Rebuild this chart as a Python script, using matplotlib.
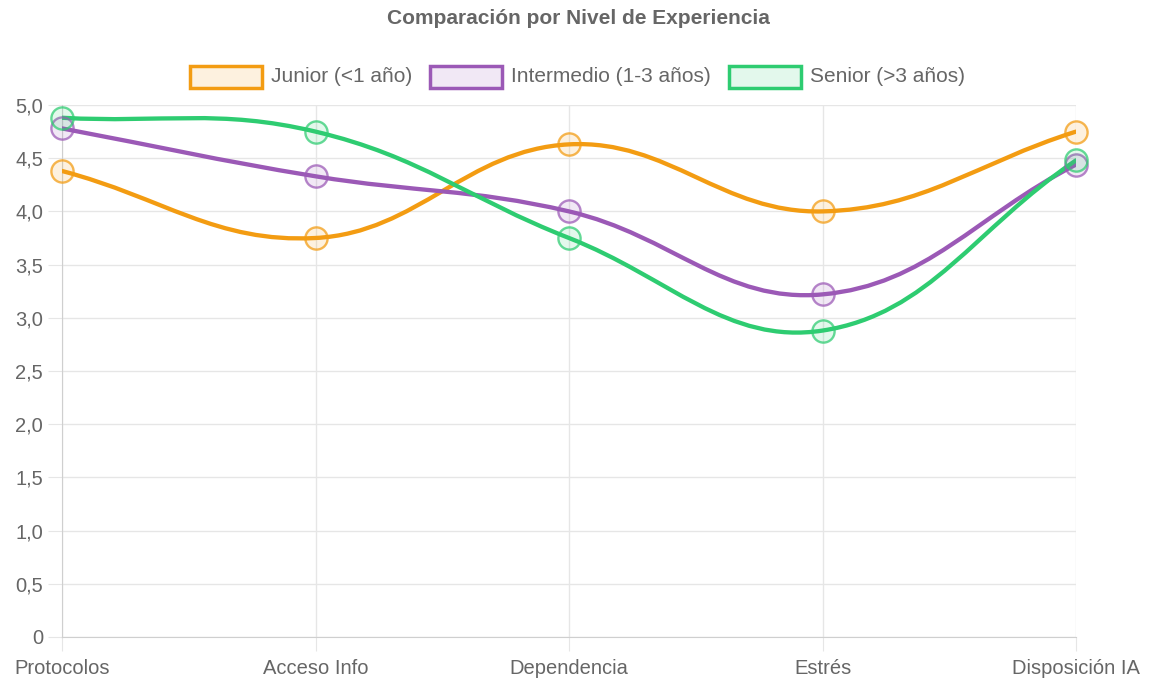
import numpy as np
import matplotlib.pyplot as plt
from matplotlib.path import Path
from matplotlib.patches import PathPatch, Rectangle
from matplotlib.ticker import FuncFormatter, MultipleLocator

plt.rcParams['font.family'] = ['Liberation Sans', 'DejaVu Sans']

categorias = ['Protocolos', 'Acceso Info', 'Dependencia', 'Estrés', 'Disposición IA']
junior = [4.38, 3.75, 4.63, 4.0, 4.75]
intermedio = [4.78, 4.33, 4.0, 3.22, 4.44]
senior = [4.88, 4.75, 3.75, 2.88, 4.48]
nombres = ['Junior (<1 año)', 'Intermedio (1-3 años)', 'Senior (>3 años)']
colores = ['#f39c12', '#9b59b6', '#2ecc71']
titulo = 'Comparación por Nivel de Experiencia'

W, H = 1149, 680
izq, der, arr, aba = 62, 1076, 105, 637
sx = (der - izq) / (len(categorias) - 1)
sy = (aba - arr) / 5.0


# curva suave tipo chart.js (tension 0.4), distancias en pixeles
def curva(y, t=0.4):
    px = np.arange(len(y)) * sx
    py = np.array(y) * sy
    n = len(px)
    cprev, cnext = [], []
    for i in range(n):
        a = max(i - 1, 0)
        c = min(i + 1, n - 1)
        d01 = np.hypot(px[i] - px[a], py[i] - py[a])
        d12 = np.hypot(px[c] - px[i], py[c] - py[i])
        tot = d01 + d12
        fa = t * d01 / tot if tot else 0
        fb = t * d12 / tot if tot else 0
        dx = px[c] - px[a]
        dy = py[c] - py[a]
        cprev.append((px[i] - fa * dx, min(py[i] - fa * dy, 5 * sy)))
        cnext.append((px[i] + fb * dx, min(py[i] + fb * dy, 5 * sy)))
    verts = [(px[0], py[0])]
    codes = [Path.MOVETO]
    for i in range(n - 1):
        verts += [cnext[i], cprev[i + 1], (px[i + 1], py[i + 1])]
        codes += [Path.CURVE4] * 3
    verts = [(vx / sx, vy / sy) for vx, vy in verts]
    return Path(verts, codes)


fig = plt.figure(figsize=(W / 100, H / 100), dpi=100)
ax = fig.add_axes([izq / W, 1 - aba / H, (der - izq) / W, (aba - arr) / H])

x = np.arange(len(categorias))
for datos, col in zip([junior, intermedio, senior], colores):
    ax.add_patch(PathPatch(curva(datos), facecolor='none', edgecolor=col,
                           lw=3.1, capstyle='round', joinstyle='round', zorder=3))
    ax.plot(x, datos, 'o', ms=16, mfc=col + '22', mec=col + 'bb', mew=1.7,
            clip_on=False, zorder=4)

ax.set_xlim(0, len(categorias) - 1)
ax.set_ylim(0, 5)
ax.yaxis.set_major_locator(MultipleLocator(0.5))
ax.yaxis.set_major_formatter(FuncFormatter(
    lambda v, p: '0' if v == 0 else f'{v:.1f}'.replace('.', ',')))
ax.set_xticks(x)
ax.set_xticklabels(categorias)
ax.grid(True, color='#e6e6e6', lw=1)
ax.set_axisbelow(True)
for s in ['top', 'right']:
    ax.spines[s].set_visible(False)
for s in ['left', 'bottom']:
    ax.spines[s].set_color('#cfcfcf')
ax.tick_params(axis='y', length=10, color='#e6e6e6', labelcolor='#666666',
               labelsize=14.5, pad=3.5)
ax.tick_params(axis='x', length=10, color='#e6e6e6', labelcolor='#666666',
               labelsize=14.5, pad=5.5)

fig.text(578 / W, 1 - 18 / H, titulo, ha='center', va='center',
         fontsize=15, fontweight='bold', color='#666666')

# leyenda manual
cajas = [190, 430, 729]
for xc, nom, col in zip(cajas, nombres, colores):
    fig.patches.append(Rectangle((xc / W, 1 - 88 / H), 72 / W, 22 / H,
                                 transform=fig.transFigure, facecolor=col + '22',
                                 edgecolor=col, lw=2.5))
    fig.text((xc + 81) / W, 1 - 77 / H, nom, ha='left', va='center',
             fontsize=15, color='#666666')

fig.savefig('out.png', dpi=100)
